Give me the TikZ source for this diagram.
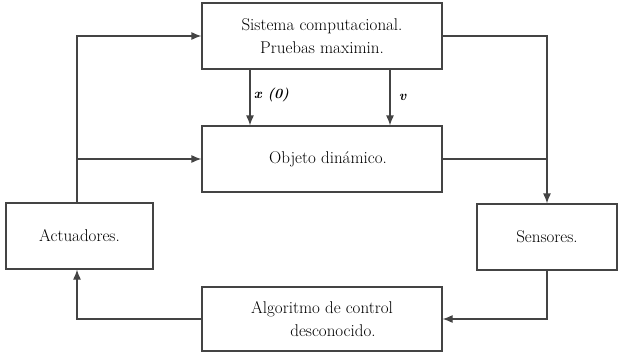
\documentclass[tikz,border=0pt]{standalone}
\usepackage{tikz}
\usetikzlibrary{arrows.meta, positioning}
\definecolor{lineGray}{HTML}{444444}

\begin{document}
\begin{tikzpicture}[x=1pt, y=-1pt,
    box/.style={rectangle, draw=lineGray, line width=1.2pt, fill=white,
                minimum width=#1, minimum height=66pt, inner sep=0pt,
                font=\fontsize{17}{23}\selectfont, align=center},
    box/.default=240pt,
    flow/.style={draw=lineGray, line width=1.2pt, -{Latex[length=10pt, width=8pt]}},
    wire/.style={draw=lineGray, line width=1.2pt},
    lbl/.style={font=\fontsize{14}{16}\selectfont\bfseries\itshape, anchor=west},
  ]
    \useasboundingbox (0,0) rectangle (619,353);

    \node[box] (sis) at (322,36)
      {Sistema computacional.\\Pruebas maximin.};
    \node[box] (obj) at (322,159)
      {\hspace*{12pt}Objeto dinámico.};
    \node[box=147pt] (act) at (79.5,236) {Actuadores.};
    \node[box=140pt] (sen) at (547,237) {Sensores.};
    \node[box, minimum height=64pt] (alg) at (322,319)
      {Algoritmo de control\\\hspace*{22pt}desconocido.};

    % junction points
    \coordinate (jl) at (77,159);
    \coordinate (jr) at (547,159);

    % left side: actuators feed both blocks
    \draw[flow] (act.north -| jl) |- (sis.west);
    \draw[flow] (jl) -- (obj.west);

    % right side: outputs to sensors
    \draw[flow] (sis.east) -| (sen.north);
    \draw[wire] (obj.east) -- (jr);

    % bottom loop
    \draw[flow] (sen.south) |- (alg.east);
    \draw[flow] (alg.west) -| (act.south -| jl);

    % inputs from the computational system
    \draw[flow] (sis.south -| 250,0) -- (obj.north -| 250,0)
      node[lbl, pos=0.45] {x (0)};
    \draw[flow] (sis.south -| 390,0) -- (obj.north -| 390,0)
      node[lbl, pos=0.5, xshift=5pt] {v};
  \end{tikzpicture}
\end{document}
